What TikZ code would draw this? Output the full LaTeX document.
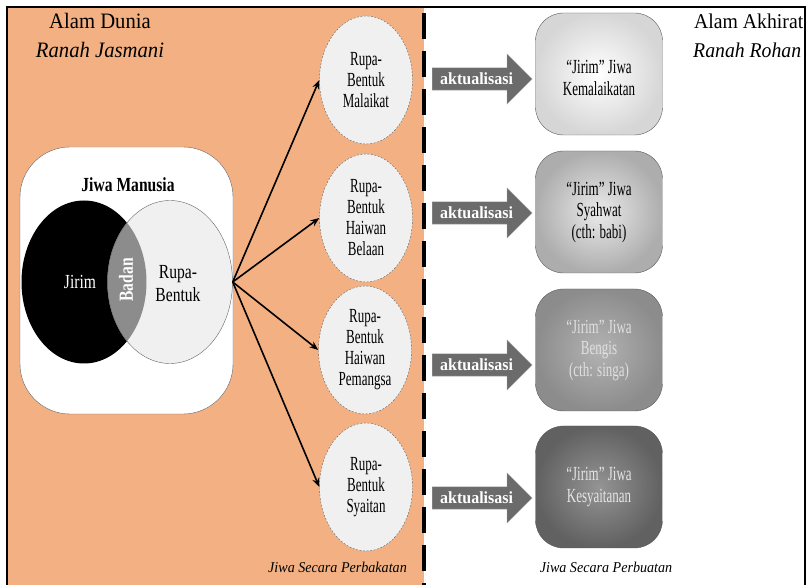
\documentclass[tikz,border=0pt]{standalone}
\usepackage{fontspec}
\setmainfont{Liberation Serif}
\newfontfamily\condfont[FakeStretch=0.65]{Liberation Serif}
\newfontfamily\midfont[FakeStretch=0.78]{Liberation Serif}
\newfontfamily\nearfont[FakeStretch=0.94]{Liberation Serif}
\usetikzlibrary{positioning,shapes.geometric,shapes.arrows,arrows.meta}
\definecolor{duniabg}{RGB}{243,177,131}

\begin{document}
\begin{tikzpicture}[x=1pt, y=-1pt,
    rupa/.style = {draw=black!60, dash pattern=on 2pt off 1.5pt, ellipse, fill=black!6,
      minimum width=93pt, minimum height=128pt, inner sep=0pt, align=center,
      font=\condfont\fontsize{20}{21}\selectfont},
    jiwa/.style = {draw=black!65, rounded corners=28pt, minimum width=127pt, minimum height=122pt,
      align=center, shading=radial, font=\condfont\fontsize{20}{21.5}\selectfont},
    aktual/.style = {single arrow, single arrow head extend=14pt, single arrow head indent=0pt,
      fill=black!58, draw=black!35, minimum height=100pt, anchor=tail, text height=12pt,
      text depth=0pt, inner xsep=3pt, inner ysep=5pt, text=white,
      font=\nearfont\bfseries\fontsize{17}{18}\selectfont},
    conn/.style = {-{Stealth[length=9pt, width=7pt]}, line width=1.6pt}]
    \useasboundingbox (0,0) rectangle (807,585);

    % alam dunia side
    \fill[duniabg] (7,7) rectangle (424,585);
    \draw[line width=4pt, dash pattern=on 26pt off 12pt, dash phase=32pt] (424,7) -- (424,585);
    \draw[line width=2.5pt] (7,585) -- (7,7) -- (805,7) -- (805,585);

    \node[font=\nearfont\fontsize{22}{24}\selectfont] (dunia) at (100,21) {Alam Dunia};
    \node[font=\nearfont\itshape\fontsize{22}{24}\selectfont] (jasmani) at (100,50) {Ranah Jasmani};
    \node[anchor=west, inner sep=0pt, font=\nearfont\fontsize{21}{24}\selectfont] (akhirat) at (694,21) {Alam Akhirat};
    \node[anchor=west, inner sep=0pt, font=\nearfont\itshape\fontsize{21}{24}\selectfont] (rohani) at (693,50) {Ranah Rohan};

    % jiwa manusia
    \node[draw=black!60, fill=white, rounded corners=50pt, minimum width=213pt, minimum height=267pt] (manusia) at (126.5,280.5) {};
    \node[font=\midfont\bfseries\fontsize{20}{22}\selectfont] (manusialbl) at (128,185) {Jiwa Manusia};
    \node[ellipse, fill=black, minimum width=125pt, minimum height=163pt] (jirim) at (84,282) {};
    \node[ellipse, fill=black!6, minimum width=125pt, minimum height=163pt] (rupab) at (170,282) {};
    \begin{scope}
        \clip (84,282) ellipse [x radius=62.5pt, y radius=81.5pt];
        \fill[black!45] (170,282) ellipse [x radius=62.5pt, y radius=81.5pt];
    \end{scope}
    \draw[black!60] (170,282) ellipse [x radius=62.5pt, y radius=81.5pt];
    \node[text=white, font=\midfont\fontsize{20}{22}\selectfont] (jirimlbl) at (80,282) {Jirim};
    \node[align=center, font=\midfont\fontsize{20}{23}\selectfont] (rupalbl) at (178,284) {Rupa-\\Bentuk};
    \node[rotate=90, text=white, font=\midfont\bfseries\fontsize{20}{22}\selectfont] (badan) at (126,280) {Badan};

    % rupa-bentuk
    \node[rupa] (malaikat) at (366,80) {Rupa-\\Bentuk\\Malaikat};
    \node[rupa] (belaan) at (366,218) {Rupa-\\Bentuk\\Haiwan\\Belaan};
    \node[rupa] (pemangsa) at (365,350) {Rupa-\\Bentuk\\Haiwan\\Pemangsa};
    \node[rupa] (syaitan) at (366,487) {Rupa-\\Bentuk\\Syaitan};
    \foreach \t in {malaikat,belaan,pemangsa,syaitan}
        \draw[conn] (rupab.east) -- (\t.west);

    % aktualisasi
    \node[aktual] (akt1) at (432,79) {aktualisasi};
    \node[aktual] (akt2) at (432,213) {aktualisasi};
    \node[aktual] (akt3) at (432,365) {aktualisasi};
    \node[aktual] (akt4) at (432,498) {aktualisasi};

    % jirim jiwa
    \node[jiwa, inner color=white, outer color=black!16] (kemalaikatan) at (599,74) {\mbox{}\\“Jirim” Jiwa\\Kemalaikatan};
    \node[jiwa, inner color=black!8, outer color=black!32] (syahwat) at (599,212) {“Jirim” Jiwa\\Syahwat\\(cth: babi)};
    \node[jiwa, inner color=black!30, outer color=black!45, text=black!12] (bengis) at (599,350) {“Jirim” Jiwa\\Bengis\\(cth: singa)};
    \node[jiwa, inner color=black!42, outer color=black!62, text=black!10] (kesyaitanan) at (599,487) {“Jirim” Jiwa\\Kesyaitanan};

    \node[anchor=east, inner sep=0pt, font=\nearfont\itshape\fontsize{15}{17}\selectfont] (perbakatan) at (407,567) {Jiwa Secara Perbakatan};
    \node[font=\nearfont\itshape\fontsize{15}{17}\selectfont] (perbuatan) at (606,567) {Jiwa Secara Perbuatan};
\end{tikzpicture}
\end{document}
